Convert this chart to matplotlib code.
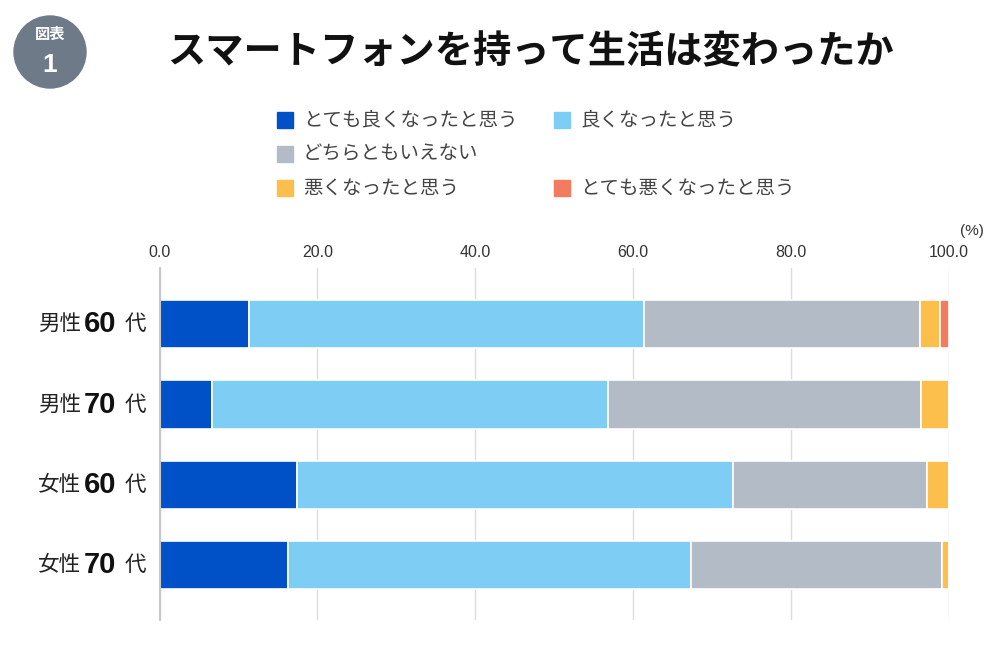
import numpy as np
import matplotlib.pyplot as plt
from matplotlib.patches import Circle, Rectangle

plt.rcParams['font.family'] = ['Noto Sans CJK JP', 'DejaVu Sans']

# data (%)
groups = ["男性", "男性", "女性", "女性"]
ages = ["60", "70", "60", "70"]
categories = ["とても良くなったと思う", "良くなったと思う", "どちらともいえない",
              "悪くなったと思う", "とても悪くなったと思う"]
very_good = [11.4, 6.6, 17.4, 16.3]
good = [50.0, 50.3, 55.3, 51.0]
neutral = [35.0, 39.6, 24.5, 31.9]
bad = [2.5, 3.5, 2.8, 0.8]
very_bad = [1.1, 0.0, 0.0, 0.0]
xticks = [0, 20, 40, 60, 80, 100]

colors = ["#0050C8", "#7DCDF5", "#B3BBC6", "#FDBF4B", "#F47C5E"]
series = [very_good, good, neutral, bad, very_bad]

fig = plt.figure(figsize=(10, 6.61), dpi=100)
ax = fig.add_axes([0.1595, 0.062, 0.9486 - 0.1595, 0.5326])

y = np.arange(len(groups))
left = np.zeros(len(groups))
for vals, c in zip(series, colors):
    vals = np.array(vals)
    ax.barh(y, vals, left=left, height=0.6, color=c, edgecolor='white', linewidth=1.2, zorder=3)
    left += vals

ax.set_xlim(0, 100)
ax.set_ylim(3.68, -0.70)
ax.xaxis.tick_top()
ax.set_xticks(xticks)
ax.set_xticklabels([f"{v:.1f}" for v in xticks], fontsize=11.5, color='#333333',
                   family=['Liberation Sans', 'DejaVu Sans'])
ax.tick_params(axis='x', length=0, pad=6)
ax.set_yticks([])
ax.xaxis.grid(True, color='#DDDDDD', linewidth=1, zorder=0)
for s in ['top', 'right', 'bottom']:
    ax.spines[s].set_visible(False)
ax.spines['left'].set_color('#C8C8C8')
ax.spines['left'].set_linewidth(1.5)
ax.spines['left'].set_zorder(4)

# row labels: 男性 + bold number + 代
tr = ax.get_yaxis_transform()
for i, (g, a) in enumerate(zip(groups, ages)):
    ax.text(-0.100, i, g, transform=tr, fontsize=15.5, ha='right', va='center',
            color='#222222')
    ax.text(-0.0955, i, a, transform=tr, fontsize=21, ha='left', va='center', fontweight='bold',
            color='#111111', family=['Liberation Sans', 'DejaVu Sans'])
    ax.text(-0.017, i, "代", transform=tr, fontsize=15.5, ha='right', va='center', color='#222222')

ax.text(1.03, 1.085, "(%)", transform=ax.transAxes, fontsize=11, ha='center', va='bottom',
        color='#333333', family=['Liberation Sans', 'DejaVu Sans'])

# title
fig.text(0.53, 0.922, "スマートフォンを持って生活は変わったか", fontsize=27.5, fontweight='bold',
         ha='center', va='center', color='#111111')

# badge
circ = Circle((50, 661 - 52), 36, transform=None, color='#6F7A88', zorder=1)
fig.patches.append(circ)
fig.text(0.05, 1 - 34 / 661, "図表", fontsize=11, color='white', ha='center', va='center',
         fontweight='bold')
fig.text(0.05, 1 - 65 / 661, "1", fontsize=19, color='white', ha='center', va='center',
         fontweight='bold', family=['Liberation Sans', 'DejaVu Sans'])

# legend
leg_pos = [(285, 120), (562, 120), (285, 154), (285, 188), (562, 188)]
for (px, py), lab, c in zip(leg_pos, categories, colors):
    sq = Rectangle((px - 8, 661 - py - 8), 16, 16, transform=None, color=c)
    fig.patches.append(sq)
    fig.text((px + 18) / 1000, 1 - py / 661, lab, fontsize=14, color='#444444',
             ha='left', va='center')

fig.savefig("out.png", dpi=100, facecolor='white')
